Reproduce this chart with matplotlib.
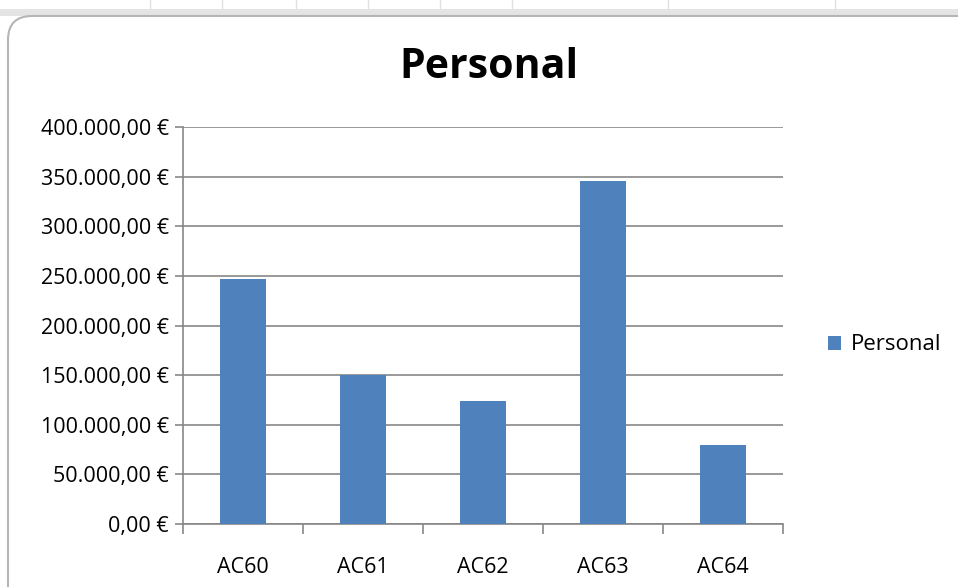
import matplotlib.pyplot as plt
from matplotlib.ticker import FuncFormatter, MultipleLocator, FixedLocator
from matplotlib.patches import FancyBboxPatch

categories = ["AC60", "AC61", "AC62", "AC63", "AC64"]
values = [247000, 150000, 124000, 346000, 80000]
series_name = "Personal"

bar_color = "#4F81BD"
grid_color = "#878787"

plt.rcParams['font.family'] = ['Open Sans', 'DejaVu Sans']

fig = plt.figure(figsize=(9.58, 5.87), dpi=100)

# spreadsheet strip on top and the rounded chart frame
for x in [150, 222, 296, 368, 440, 512, 668, 835]:
    fig.add_artist(plt.Line2D([x / 958, x / 958], [1 - 0 / 587, 1 - 12 / 587],
                              color="#e0e0e0", lw=1, zorder=-20))
fig.add_artist(plt.Line2D([0, 1], [1 - 12 / 587, 1 - 12 / 587], color="#e4e4e4",
                          lw=5, zorder=-20))
frame = FancyBboxPatch((8 / 958, -0.05), 1.2, 1 - 16 / 587 + 0.05,
                       boxstyle="round,pad=0,rounding_size=0.025",
                       transform=fig.transFigure, facecolor="white",
                       edgecolor="#b5b5b5", lw=1.5, mutation_aspect=958 / 587,
                       zorder=-10)
fig.add_artist(frame)

ax = fig.add_axes([183 / 958, 1 - 524 / 587, 600 / 958, 397 / 587])
ax.patch.set_alpha(0)
x = range(len(categories))
bars = ax.bar(x, values, width=0.39, color=bar_color, label=series_name, zorder=3)

ax.set_xlim(-0.5, len(categories) - 0.5)
ax.set_ylim(0, 400000)
ax.yaxis.set_major_locator(MultipleLocator(50000))


def euro(v, pos):
    s = "{:,.2f}".format(v).replace(",", "X").replace(".", ",").replace("X", ".")
    return s + " €"


ax.yaxis.set_major_formatter(FuncFormatter(euro))
ax.grid(axis="y", color=grid_color, lw=1.2, zorder=0)

ax.set_xticks(list(x))
ax.set_xticklabels(categories)
ax.xaxis.set_minor_locator(FixedLocator([i - 0.5 for i in range(len(categories) + 1)]))
ax.tick_params(axis="x", which="major", length=0, pad=24, labelsize=15.5)
ax.tick_params(axis="x", which="minor", length=7, color=grid_color, width=1.2)
ax.tick_params(axis="y", length=6, color=grid_color, width=1.2, labelsize=15.5, pad=4)

for side in ["top", "right"]:
    ax.spines[side].set_visible(False)
for side in ["left", "bottom"]:
    ax.spines[side].set_color(grid_color)
    ax.spines[side].set_linewidth(1.2)

fig.text(489 / 958, 1 - 68 / 587, "Personal", ha="center", va="center",
         fontsize=29.5, fontweight="bold")

fig.legend(handles=[bars], labels=[series_name], loc="center left",
           bbox_to_anchor=(808 / 958, 1 - 345 / 587), frameon=False,
           fontsize=16, handlelength=0.6, handleheight=0.6, handletextpad=0.45)

fig.savefig("out.png", dpi=100)
